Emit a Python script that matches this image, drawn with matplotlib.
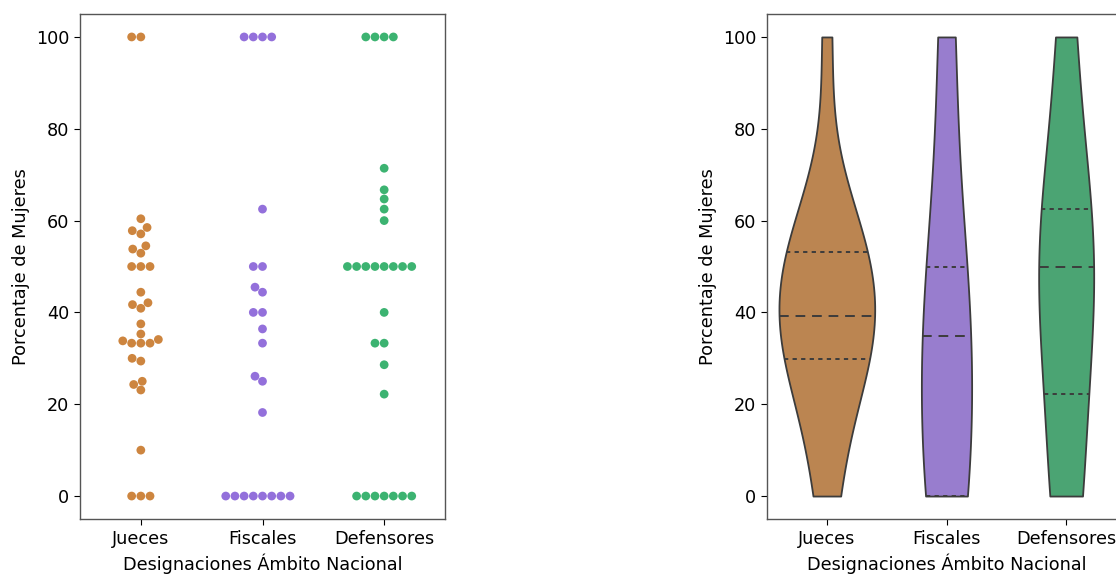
import numpy as np
import pandas as pd
import matplotlib
matplotlib.use("Agg")
import matplotlib.pyplot as plt
import seaborn as sns

categorias = ["Jueces", "Fiscales", "Defensores"]
colores = ["peru", "mediumpurple", "mediumseagreen"]

# porcentaje de mujeres por designacion
jueces = [0, 0, 0, 10, 23.1, 24.3, 25, 29.4, 30, 33.3, 33.3, 33.3, 33.8, 34.1,
          35.3, 37.5, 40.9, 41.7, 42.1, 44.4, 50, 50, 50, 52.9, 53.8, 54.5,
          57.1, 57.8, 58.5, 60.4, 100, 100]
fiscales = [0, 0, 0, 0, 0, 0, 0, 0, 18.2, 25, 26.1, 33.3, 36.4, 40, 40, 44.4,
            45.5, 50, 50, 62.5, 100, 100, 100, 100]
defensores = [0, 0, 0, 0, 0, 0, 0, 22.2, 28.6, 33.3, 33.3, 40, 50, 50, 50, 50,
              50, 50, 50, 50, 60, 62.5, 64.7, 66.7, 71.4, 100, 100, 100, 100]

df = pd.DataFrame({
    "tipo": ["Jueces"] * len(jueces) + ["Fiscales"] * len(fiscales) + ["Defensores"] * len(defensores),
    "pct": jueces + fiscales + defensores,
})

xlabel = "Designaciones Ámbito Nacional"
ylabel = "Porcentaje de Mujeres"

plt.rcParams["font.size"] = 12.7
plt.rcParams["xtick.major.size"] = 4.4
plt.rcParams["ytick.major.size"] = 4.4
plt.rcParams["axes.linewidth"] = 1.0

fig = plt.figure(figsize=(11.16, 5.78), dpi=100)
ax1 = fig.add_axes([80/1116, 59/578, 365/1116, 505/578])
ax2 = fig.add_axes([767/1116, 59/578, 359/1116, 505/578])

sns.swarmplot(data=df, x="tipo", y="pct", hue="tipo", order=categorias,
              hue_order=categorias, palette=colores, size=6.3, legend=False, ax=ax1)
ax1.set_xlabel(xlabel)
ax1.set_ylabel(ylabel)

anchos = [0.8, 0.42, 0.46]
for cat, col, w in zip(categorias, colores, anchos):
    sns.violinplot(data=df[df["tipo"] == cat], x="tipo", y="pct", order=categorias,
                   color=col, cut=0, inner="quartile", bw_adjust=1.4,
                   density_norm="width", width=w, linewidth=1.3,
                   linecolor="#3c3c3c", ax=ax2)
ax2.set_xlabel(xlabel)
ax2.set_ylabel(ylabel)

# lineas de cuartiles: mediana con guion largo, cuartiles con guion corto
for i, ln in enumerate(ax2.lines):
    ln.set_color("#3c3c3c")
    ln.set_linewidth(1.4)
    if i % 3 == 1:
        ln.set_dashes((5, 3.5))
    else:
        ln.set_dashes((2.2, 2.2))

for ax in (ax1, ax2):
    ax.set_ylim(-5, 105)
    ax.set_xlim(-0.5, 2.5)
    for s in ax.spines.values():
        s.set_color("#555555")

fig.savefig("out.png", dpi=100)
